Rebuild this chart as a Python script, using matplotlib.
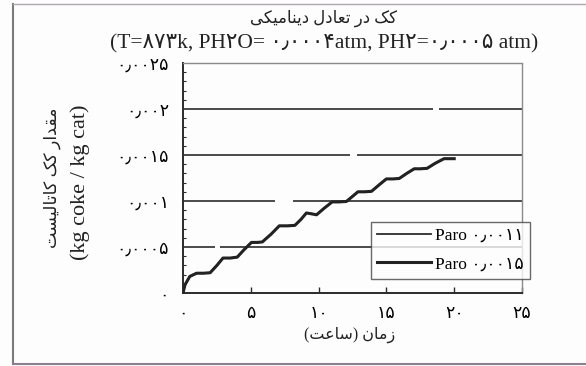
import matplotlib.pyplot as plt
from matplotlib.lines import Line2D
from matplotlib.ticker import MultipleLocator

plt.rcParams['font.family'] = ['Liberation Serif', 'DejaVu Sans']

# coke on catalyst vs time, dynamic equilibrium run
hours = [0, 0.15, 0.5, 1.0, 1.5, 2.0, 2.5, 2.95, 3.5, 4.0, 4.5, 5.05, 5.5, 5.85,
         6.5, 7.1, 7.7, 8.25, 8.7, 9.1, 9.5, 9.85, 10.4, 11.0, 11.5, 12.05, 12.5,
         12.9, 13.4, 13.9, 14.5, 15.0, 15.5, 15.95, 16.5, 17.05, 17.5, 18.0, 18.6,
         19.25, 19.6, 20.0]
coke_paro_0011 = [0, 0.00009, 0.00018, 0.000215, 0.000215, 0.00022, 0.0003, 0.00038,
                  0.00038, 0.00039, 0.00047, 0.00055, 0.00055, 0.000555, 0.00064,
                  0.00073, 0.00073, 0.000735, 0.0008, 0.00087, 0.00086, 0.00085,
                  0.00092, 0.00099, 0.00099, 0.000995, 0.00105, 0.0011, 0.0011,
                  0.001105, 0.00118, 0.00124, 0.00124, 0.001245, 0.0013, 0.00135,
                  0.00135, 0.001355, 0.00141, 0.00146, 0.00146, 0.00146]
coke_paro_0015 = coke_paro_0011[:]

x_ticks = [0, 5, 10, 15, 20, 25]
x_labels = ['۰', '۵', '۱۰', '۱۵', '۲۰', '۲۵']
y_ticks = [0, 0.0005, 0.001, 0.0015, 0.002, 0.0025]
y_labels = ['۰', '۰٫۰۰۰۵', '۰٫۰۰۱', '۰٫۰۰۱۵', '۰٫۰۰۲', '۰٫۰۰۲۵']
legend_labels = ['Paro ۰٫۰۰۱۱', 'Paro ۰٫۰۰۱۵']

# breaks in the horizontal grid lines (level, x_from, x_to)
grid_breaks = {0.0005: (2.35, 2.7), 0.001: (6.8, 8.1), 0.0015: (12.3, 12.8),
               0.002: (18.4, 18.9)}

# contextual forms (isolated, final, initial, medial)
FORMS = {
    'ا': ('\uFE8D', '\uFE8E', None, None),
    'د': ('\uFEA9', '\uFEAA', None, None),
    'ر': ('\uFEAD', '\uFEAE', None, None),
    'ز': ('\uFEAF', '\uFEB0', None, None),
    'ت': ('\uFE95', '\uFE96', '\uFE97', '\uFE98'),
    'ع': ('\uFEC9', '\uFECA', '\uFECB', '\uFECC'),
    'ل': ('\uFEDD', '\uFEDE', '\uFEDF', '\uFEE0'),
    'ن': ('\uFEE5', '\uFEE6', '\uFEE7', '\uFEE8'),
    'م': ('\uFEE1', '\uFEE2', '\uFEE3', '\uFEE4'),
    'ق': ('\uFED5', '\uFED6', '\uFED7', '\uFED8'),
    'س': ('\uFEB1', '\uFEB2', '\uFEB3', '\uFEB4'),
    'ی': ('\uFBFC', '\uFBFD', '\uFBFE', '\uFBFF'),
    'ک': ('\uFB8E', '\uFB8F', '\uFB90', '\uFB91'),
}


def shape_word(w):
    out = []
    for i, ch in enumerate(w):
        f = FORMS[ch]
        joins_prev = i > 0 and FORMS[w[i - 1]][2] is not None
        joins_next = i < len(w) - 1 and f[2] is not None
        if joins_prev and joins_next:
            out.append(f[3])
        elif joins_prev:
            out.append(f[1])
        elif joins_next:
            out.append(f[2])
        else:
            out.append(f[0])
    return ''.join(reversed(out))


def fa(text):
    return ' '.join(shape_word(w) for w in reversed(text.split(' ')))


fig = plt.figure(figsize=(5.86, 3.66), dpi=100, facecolor='#fdfdfd')
ax = fig.add_axes([183 / 586, 1 - 293 / 366, 339 / 586, 230 / 366])
ax.set_facecolor('#fdfdfd')

dark = '#2b2b2b'
for lvl in y_ticks[1:-1]:
    if lvl in grid_breaks:
        a, b = grid_breaks[lvl]
        ax.hlines(lvl, 0, a, color=dark, lw=1.2, zorder=1)
        ax.hlines(lvl, b, 25, color=dark, lw=1.2, zorder=1)
    else:
        ax.hlines(lvl, 0, 25, color=dark, lw=1.2, zorder=1)

ax.plot(hours, coke_paro_0011, color=dark, lw=1.3, label=legend_labels[0],
        solid_joinstyle='round', zorder=3)
ax.plot(hours, coke_paro_0015, color='#222222', lw=2.2, label=legend_labels[1],
        solid_joinstyle='round', zorder=3)

ax.set_xlim(0, 25)
ax.set_ylim(0, 0.0025)
ax.set_xticks(x_ticks)
ax.set_xticklabels(x_labels, fontsize=12.5, family=['DejaVu Sans'])
ax.set_yticks(y_ticks)
ax.set_yticklabels(y_labels, fontsize=12.5, family=['DejaVu Sans'])
ax.yaxis.set_minor_locator(MultipleLocator(0.0001))
ax.tick_params(axis='x', direction='in', length=4, width=1, color=dark, pad=8)
ax.tick_params(axis='y', which='major', direction='in', length=0, pad=10)
ax.tick_params(axis='y', which='minor', direction='in', length=2, width=0.8, color=dark)

for side in ('left', 'bottom'):
    ax.spines[side].set_color(dark)
    ax.spines[side].set_linewidth(1.4)
for side in ('top', 'right'):
    ax.spines[side].set_color('#8a8a8a')
    ax.spines[side].set_linestyle((0, (1, 1)))
    ax.spines[side].set_linewidth(1.0)

leg = ax.legend(loc='upper left', bbox_to_anchor=(0.555, 0.309), fontsize=12.5,
                frameon=True, fancybox=False, edgecolor='#444444',
                handlelength=3.1, handletextpad=0.25, borderpad=0.35,
                labelspacing=0.7, borderaxespad=0)
leg.get_frame().set_linewidth(1.0)
leg.get_frame().set_facecolor('#fdfdfd')
leg.set_zorder(5)

fig.text(324 / 586, 1 - 18 / 366, fa('کک در تعادل دینامیکی'), ha='center',
         va='center', fontsize=12, color='#222222')
fig.text(324 / 586, 1 - 44 / 366,
         '(T=۸۷۳k, PH۲O= ۰٫۰۰۰۴atm, PH۲=۰٫۰۰۰۵ atm)', ha='center',
         va='center', fontsize=15.5, color='#222222')

fig.text(52 / 586, 1 - 178 / 366, fa('مقدار کک کاتالیست'), rotation=90,
         ha='center', va='center', fontsize=12.5, color='#222222')
fig.text(80 / 586, 1 - 182 / 366, '(kg coke / kg cat)', rotation=90,
         ha='center', va='center', fontsize=16, color='#222222')
fig.text(350 / 586, 1 - 335 / 366,
         '(' + shape_word('ساعت') + ') ' + shape_word('زمان'),
         ha='center', va='center', fontsize=11.5, color='#222222')

# outer frame
fig.add_artist(Line2D([13 / 586, 13 / 586], [1 - 4 / 366, 1 - 364 / 366],
                      color='#7a7a7a', lw=1.5))
fig.add_artist(Line2D([13 / 586, 1], [1 - 4 / 366, 1 - 4 / 366],
                      color='#b0a8b0', lw=1.0))
fig.add_artist(Line2D([13 / 586, 1], [1 - 364 / 366, 1 - 364 / 366],
                      color='#8a8090', lw=1.5))

fig.savefig('out.png', dpi=100, facecolor=fig.get_facecolor())
